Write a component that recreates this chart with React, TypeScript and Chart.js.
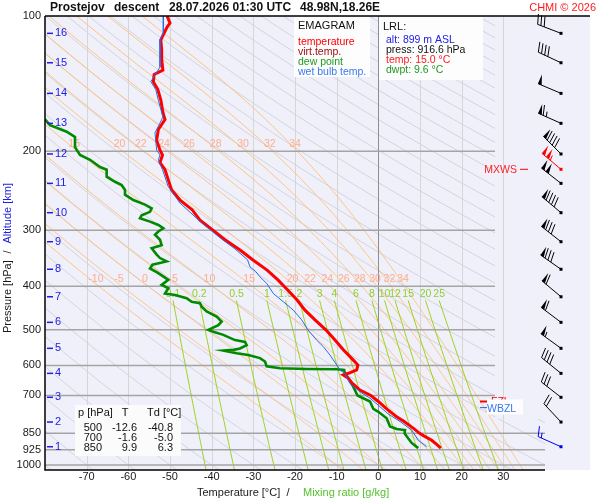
import React, { useEffect, useRef } from "react";
import { Chart, registerables } from "chart.js";

Chart.register(...registerables);

// ---------------- data ----------------
const tempP = [100, 103.7, 105.8, 113, 119, 125, 132, 135, 140, 146,
  154, 164, 170, 179, 189, 199, 204, 212, 220, 232,
  244, 257, 270, 285, 300, 315, 332, 350, 368, 387,
  408, 429, 452, 475, 500, 527, 554, 584, 599, 614,
  624, 630, 640, 657, 681, 700, 722, 750, 781, 800,
  831, 850, 860, 881, 900, 916.6];
const tempT = [-50.7, -50.0, -50.7, -52.2, -52.0, -52.0, -51.7, -53.8, -54.0, -52.9,
  -52.2, -51.7, -51.2, -52.8, -53.2, -52.4, -51.8, -52.4, -51.2, -50.4,
  -49.6, -47.6, -44.7, -42.8, -39.7, -36.8, -33.2, -30.0, -26.7, -24.1,
  -21.7, -19.5, -17.6, -15.2, -12.6, -10.4, -8.4, -6.0, -4.9, -5.2,
  -7.0, -8.4, -7.3, -6.3, -4.4, -1.8, 0.0, 2.0, 4.4, 6.2,
  8.6, 9.9, 10.8, 12.8, 14.0, 15.0];

const dewP = [170, 175, 181, 186, 196, 204, 209, 217, 220, 228,
  234, 238, 244, 250, 257, 263, 268, 273, 278, 282,
  287, 292, 297, 302, 307, 315, 324, 329, 340, 346,
  352, 358, 365, 373, 387, 397, 404, 415, 418, 425,
  433, 436, 444, 455, 467, 479, 488, 500, 505, 513,
  527, 532, 541, 550, 554, 556, 564, 569, 578, 588,
  603, 609, 611, 612, 614, 626, 648, 670, 700, 722,
  750, 761, 787, 821, 831, 836, 850, 863, 893, 911,
  916.6];
const dewT = [-80, -78.8, -74.8, -72.8, -72.8, -71.6, -69.2, -66.8, -65.2, -65.2,
  -63.2, -61.6, -60.8, -60.8, -58.8, -56.0, -54.4, -54.8, -56.8, -57.2,
  -54.8, -52.8, -51.6, -52.8, -53.6, -52.4, -52.0, -54.4, -53.2, -52.4,
  -50.8, -54.2, -54.8, -53.0, -50.4, -52.0, -50.4, -51.2, -48.8, -46.0,
  -44.8, -42.8, -42.4, -41.2, -38.8, -37.6, -38.4, -40.8, -39.6, -37.2,
  -34.4, -32.0, -31.6, -33.2, -34.8, -37.2, -34.0, -31.2, -28.4, -27.2,
  -26.8, -23.6, -17.2, -10.0, -8.2, -8.0, -6.8, -6.0, -5.0, -2.0,
  -1.2, 0.0, 2.0, 2.8, 4.4, 6.4, 6.3, 6.8, 8.0, 9.2,
  9.6];

const wetBulbP = [100, 109, 113, 130, 140, 146, 154, 168, 176, 182,
  199, 204, 209, 220, 240, 261, 280, 290, 300, 315,
  329, 349, 362, 371, 381, 394, 415, 433, 452, 475,
  500, 527, 545, 569, 591, 614, 626, 659, 687, 710,
  736, 770, 800, 836, 881, 911];
const wetBulbT = [-51.6, -51.6, -52.4, -52.4, -54.6, -53.4, -52.8, -51.7, -52.8, -53.6,
  -53.2, -52.4, -52.8, -51.8, -50.4, -47.6, -44.0, -42.2, -40.2, -37.4,
  -34.6, -31.4, -30.8, -29.4, -28.4, -26.8, -25.2, -22.8, -20.4, -18.4,
  -16.9, -14.8, -13.2, -11.6, -10.4, -9.2, -8.0, -6.8, -4.4, -2.0,
  0.0, 2.4, 5.2, 8.0, 9.6, 11.6];

const pressureTicks = [100, 200, 300, 400, 500, 600, 700, 850, 925, 1000];
const temperatureTicks = [-70, -60, -50, -40, -30, -20, -10, 0, 10, 20, 30];

const altitudeKm = [1, 2, 3, 4, 5, 6, 7, 8, 9, 10, 11, 12, 13, 14, 15, 16];
const altitudeP = [910.6, 802.2, 706.7, 625.0, 549.7, 481.1, 422.0, 366.5, 318.2, 274.2,
  235.9, 202.9, 173.4, 148.7, 127.1, 109.3];
const windDir = [294, 317, 308, 309, 306, 307, 310, 305, 308, 310, 308, 315, 294, 293, 295, 291];
const windSpd = [15, 20, 30, 40, 55, 60, 60, 80, 80, 90, 100, 90, 65, 50, 40, 30];
const maxWindP = 219.5;
const maxWindDir = 310;
const maxWindSpd = 105;

const dryAdiabatTheta = [-80, -70, -60, -50, -40, -30, -20, -10, 0, 10, 20, 30, 40, 50, 60, 70, 80, 90,
  100, 110, 120, 130, 140, 150, 160, 170, 180, 190, 200, 210, 220, 230, 240, 250, 260, 270, 280, 290, 300, 310];
const moistAdiabatThetaW = [-10, -5, 0, 5, 10, 15, 20, 22, 24, 26, 28, 30, 32, 34];
const mixingRatios = [0.1, 0.2, 0.5, 1, 1.5, 2, 3, 4, 6, 8, 10, 12, 15, 20, 25];
const mixingRatioLabels = ["0.1", "0.2", "0.5", "1", "1.5", "2", "3", "4", "6", "8", "10", "12", "15", "20", "25"];

const tableP = [500, 700, 850];
const tableT = ["-12.6", "-1.6", "9.9"];
const tableTd = ["-40.8", "-5.0", "6.3"];

const fzlP = 722;
const wbzlP = 745;

// -------------- layout constants --------------
const PANEL_RIGHT = 590;
const FONT = '"Liberation Sans", Arial, Helvetica, sans-serif';

// -------------- helpers --------------
function satVap(tc: number) {
  return 6.112 * Math.exp((17.67 * tc) / (tc + 243.5));
}

function moistCurve(thetaW: number): [number, number][] {
  const f = (p: number, T: number) => {
    const es = satVap(T - 273.15);
    const rs = (0.622 * es) / (p - es);
    const num = 287.04 * T + 2.501e6 * rs;
    const den = 1005.7 + (2.501e6 * 2.501e6 * rs * 0.622) / (287.04 * T * T);
    return num / den / p;
  };
  const integrate = (h: number, pEnd: number) => {
    const out: [number, number][] = [];
    let T = thetaW + 273.15;
    let p = 1000;
    out.push([T - 273.15, p]);
    while ((h < 0 && p > pEnd) || (h > 0 && p < pEnd)) {
      const k1 = f(p, T);
      const k2 = f(p + h / 2, T + (h / 2) * k1);
      const k3 = f(p + h / 2, T + (h / 2) * k2);
      const k4 = f(p + h, T + h * k3);
      T += (h * (k1 + 2 * k2 + 2 * k3 + k4)) / 6;
      p += h;
      out.push([T - 273.15, p]);
    }
    return out;
  };
  const up = integrate(-2, 98);
  const down = integrate(2, 1040);
  return down.reverse().concat(up.slice(1));
}

function mixingT(w: number, p: number) {
  const es = (w * p) / (622 + w);
  const x = Math.log(es / 6.112);
  return (243.5 * x) / (17.67 - x);
}

function tAt(curve: [number, number][], p: number) {
  for (let i = 0; i < curve.length - 1; i++) {
    const [t1, p1] = curve[i];
    const [t2, p2] = curve[i + 1];
    if ((p1 - p) * (p2 - p) <= 0 && p1 !== p2) {
      return t1 + ((t2 - t1) * (p - p1)) / (p2 - p1);
    }
  }
  return NaN;
}

function text(ctx: CanvasRenderingContext2D, s: string, x: number, y: number, color: string, size: number,
  align: CanvasTextAlign = "left", weight = "normal") {
  ctx.font = `${weight} ${size}px ${FONT}`;
  ctx.fillStyle = color;
  ctx.textAlign = align;
  ctx.textBaseline = "middle";
  ctx.fillText(s, x, y);
}

function drawBarb(ctx: CanvasRenderingContext2D, x: number, y: number, dir: number, spd: number, color: string) {
  const r = (dir * Math.PI) / 180;
  const ux = Math.sin(r);
  const uy = -Math.cos(r);
  const nx = -uy;
  const ny = ux;
  const L = 25;
  const BL = 10;
  ctx.save();
  ctx.strokeStyle = color;
  ctx.fillStyle = color;
  ctx.lineWidth = 1;
  ctx.beginPath();
  ctx.moveTo(x, y);
  ctx.lineTo(x + ux * L, y + uy * L);
  ctx.stroke();
  ctx.fillRect(x - 1.5, y - 1.5, 3, 3);
  let s = Math.round(spd / 5) * 5;
  let pos = L;
  while (s >= 50) {
    const ax = x + ux * pos, ay = y + uy * pos;
    const bx = x + ux * (pos - 4), by = y + uy * (pos - 4);
    ctx.beginPath();
    ctx.moveTo(ax, ay);
    ctx.lineTo(ax + nx * BL, ay + ny * BL);
    ctx.lineTo(bx, by);
    ctx.closePath();
    ctx.fill();
    pos -= 5.5;
    s -= 50;
  }
  while (s >= 10) {
    const ax = x + ux * pos, ay = y + uy * pos;
    ctx.beginPath();
    ctx.moveTo(ax, ay);
    ctx.lineTo(ax + nx * BL + ux * 3, ay + ny * BL + uy * 3);
    ctx.stroke();
    pos -= 3.5;
    s -= 10;
  }
  if (s >= 5) {
    if (pos === L) pos -= 3.5;
    const ax = x + ux * pos, ay = y + uy * pos;
    ctx.beginPath();
    ctx.moveTo(ax, ay);
    ctx.lineTo(ax + nx * BL * 0.5 + ux * 1.5, ay + ny * BL * 0.5 + uy * 1.5);
    ctx.stroke();
  }
  ctx.restore();
}

// -------------- plugin --------------
const emagramPlugin = {
  id: "emagram",
  beforeDraw(chart: any) {
    const ctx: CanvasRenderingContext2D = chart.ctx;
    const a = chart.chartArea;
    ctx.save();
    ctx.fillStyle = "#ffffff";
    ctx.fillRect(0, 0, chart.width, chart.height);
    ctx.fillStyle = "rgb(240,240,251)";
    ctx.fillRect(a.left, a.top, PANEL_RIGHT - a.left, a.bottom - a.top);
    ctx.restore();
  },
  beforeDatasetsDraw(chart: any) {
    const ctx: CanvasRenderingContext2D = chart.ctx;
    const xs = chart.scales.x;
    const ys = chart.scales.y;
    const a = chart.chartArea;
    const X = (t: number) => xs.getPixelForValue(t);
    const Y = (p: number) => ys.getPixelForValue(p);
    const xCut = X(28);
    const yCut = Y(790);

    ctx.save();
    // vertical temperature grid
    ctx.lineWidth = 1;
    temperatureTicks.forEach((t) => {
      if (t === 0) return;
      ctx.strokeStyle = "#d6d6d6";
      ctx.beginPath();
      ctx.moveTo(Math.round(X(t)) + 0.5, a.top);
      ctx.lineTo(Math.round(X(t)) + 0.5, a.bottom);
      ctx.stroke();
    });

    // clip region for thermodynamic lines
    ctx.save();
    ctx.beginPath();
    ctx.moveTo(a.left, a.top);
    ctx.lineTo(xCut, a.top);
    ctx.lineTo(xCut, yCut);
    ctx.lineTo(a.right, yCut);
    ctx.lineTo(a.right, a.bottom);
    ctx.lineTo(a.left, a.bottom);
    ctx.closePath();
    ctx.clip();

    const strokeCurve = (pts: [number, number][]) => {
      ctx.beginPath();
      pts.forEach(([t, p], i) => {
        const x = X(t), y = Y(p);
        if (i === 0) ctx.moveTo(x, y);
        else ctx.lineTo(x, y);
      });
      ctx.stroke();
    };

    // dry adiabats
    ctx.strokeStyle = "#d3d3dc";
    ctx.lineWidth = 1;
    dryAdiabatTheta.forEach((th) => {
      const pts: [number, number][] = [];
      for (let p = 98; p <= 1040; p += 6) {
        pts.push([(th + 273.15) * Math.pow(p / 1000, 0.2857) - 273.15, p]);
      }
      strokeCurve(pts);
    });

    // moist adiabats
    const moist = moistAdiabatThetaW.map((tw) => moistCurve(tw));
    ctx.strokeStyle = "#ffc27c";
    moist.forEach((c) => strokeCurve(c));

    // mixing ratio lines
    ctx.strokeStyle = "#9ed21a";
    mixingRatios.forEach((w) => {
      const pts: [number, number][] = [];
      for (let p = 430; p <= 1040; p += 10) pts.push([mixingT(w, p), p]);
      strokeCurve(pts);
    });
    ctx.restore();

    // 0 degC line
    ctx.strokeStyle = "#8e8e8e";
    ctx.lineWidth = 1;
    ctx.beginPath();
    ctx.moveTo(Math.round(X(0)) + 0.5, a.top);
    ctx.lineTo(Math.round(X(0)) + 0.5, a.bottom);
    ctx.stroke();

    // isobars
    ctx.strokeStyle = "#a4a4a4";
    ctx.lineWidth = 1.5;
    pressureTicks.forEach((p) => {
      if (p === 100) return;
      const y = Y(p);
      ctx.beginPath();
      ctx.moveTo(a.left, y);
      ctx.lineTo(p >= 850 ? a.right : xCut, y);
      ctx.stroke();
    });

    // labels of moist adiabats (placed where each line meets the text baseline)
    [200, 400].forEach((lp) => {
      const yBase = Y(lp) - 2.5;
      const pBase = ys.getValueForPixel(yBase);
      moist.forEach((c, i) => {
        const t = tAt(c, pBase);
        const x = X(t);
        if (!(x > 55 && x < xCut - 4)) return;
        text(ctx, String(moistAdiabatThetaW[i]), x, Y(lp) - 7, "#ffac8a", 10.5, "center");
      });
    });
    // labels of mixing ratio lines
    mixingRatios.forEach((w, i) => {
      const x = X(mixingT(w, 430));
      text(ctx, mixingRatioLabels[i], x, Y(400) + 8, "#8fd02a", 10.5, "center");
    });
    ctx.restore();
  },
  afterDatasetsDraw(chart: any) {
    const ctx: CanvasRenderingContext2D = chart.ctx;
    const xs = chart.scales.x;
    const ys = chart.scales.y;
    const a = chart.chartArea;
    const X = (t: number) => xs.getPixelForValue(t);
    const Y = (p: number) => ys.getPixelForValue(p);
    const xCut = X(28);
    ctx.save();

    // frame lines
    ctx.strokeStyle = "#000000";
    ctx.lineWidth = 1.5;
    ctx.beginPath();
    ctx.moveTo(a.left, Y(100));
    ctx.lineTo(PANEL_RIGHT, Y(100));
    ctx.stroke();
    ctx.beginPath();
    ctx.moveTo(a.left, a.top);
    ctx.lineTo(a.left, a.bottom);
    ctx.lineTo(a.right, a.bottom);
    ctx.stroke();

    // pressure labels
    pressureTicks.forEach((p) => text(ctx, String(p), a.left - 4, Y(p), "#1a1a1a", 11, "right"));
    // temperature labels
    temperatureTicks.forEach((t) => text(ctx, String(t), X(t), a.bottom + 7, "#1a1a1a", 11, "center"));

    // altitude ticks
    altitudeKm.forEach((km, i) => {
      const y = Y(altitudeP[i]);
      ctx.strokeStyle = "#2020e0";
      ctx.lineWidth = 1.5;
      ctx.beginPath();
      ctx.moveTo(a.left + 2, y);
      ctx.lineTo(a.left + 8, y);
      ctx.stroke();
      text(ctx, String(km), a.left + 10, y, "#2020e0", 11, "left");
    });

    // axis titles
    text(ctx, "Temperature [°C]", 197, 493, "#1a1a1a", 11, "left");
    text(ctx, "/", 288, 493, "#1a1a1a", 11, "center");
    text(ctx, "Mixing ratio [g/kg]", 303, 493, "#55c22a", 11, "left");
    ctx.save();
    ctx.translate(8, 333);
    ctx.rotate(-Math.PI / 2);
    text(ctx, "Pressure [hPa]", 0, 0, "#1a1a1a", 11, "left");
    text(ctx, "/", 81, 0, "#1a1a1a", 11, "center");
    text(ctx, "Altitude [km]", 150, 0, "#2020e0", 11, "right");
    ctx.restore();

    // title
    text(ctx, "Prostejov", 50, 8, "#111", 12, "left", "bold");
    text(ctx, "descent", 114, 8, "#111", 12, "left", "bold");
    text(ctx, "28.07.2026 01:30 UTC", 169, 8, "#111", 12, "left", "bold");
    text(ctx, "48.98N,18.26E", 300, 8, "#111", 12, "left", "bold");
    text(ctx, "CHMI © 2026", 596, 8, "#ff1a1a", 11, "right");

    // legend box
    ctx.fillStyle = "#fdfdfd";
    ctx.fillRect(294, 17, 76, 60);
    text(ctx, "EMAGRAM", 298, 26, "#111", 11);
    text(ctx, "temperature", 298, 42, "#ff0000", 10.5);
    text(ctx, "virt.temp.", 298, 52, "#a01010", 10.5);
    text(ctx, "dew point", 298, 62, "#1f9a1f", 10.5);
    text(ctx, "wet bulb temp.", 298, 72, "#3a78f0", 10.5);

    // LRL box
    ctx.fillStyle = "#fdfdfd";
    ctx.fillRect(379, 17, 104, 63);
    text(ctx, "LRL:", 383, 27, "#111", 11);
    text(ctx, "alt: 899 m ASL", 386, 40, "#2020e8", 10.5);
    text(ctx, "press: 916.6 hPa", 386, 50, "#111", 10.5);
    text(ctx, "temp: 15.0 °C", 386, 60, "#ff1a1a", 10.5);
    text(ctx, "dwpt: 9.6 °C", 386, 70, "#1f9a1f", 10.5);

    // table
    ctx.fillStyle = "#fbfbfb";
    ctx.fillRect(75, 405, 106, 51);
    text(ctx, "p [hPa]", 78, 413, "#111", 11);
    text(ctx, "T", 125, 413, "#111", 11, "center");
    text(ctx, "Td [°C]", 147, 413, "#111", 11);
    tableP.forEach((p, i) => {
      const y = 428 + i * 10;
      text(ctx, String(p), 102, y, "#111", 11, "right");
      text(ctx, tableT[i], 137, y, "#111", 11, "right");
      text(ctx, tableTd[i], 173, y, "#111", 11, "right");
    });

    // FZL / WBZL
    const yF = Y(fzlP);
    const yW = Y(wbzlP);
    ctx.strokeStyle = "#ff0000";
    ctx.lineWidth = 2;
    ctx.beginPath();
    ctx.moveTo(xCut - 15, yF);
    ctx.lineTo(xCut - 5, yF);
    ctx.stroke();
    text(ctx, "FZL", xCut - 4, yF + 1, "#ff0000", 10.5);
    ctx.fillStyle = "#fdfdfd";
    ctx.fillRect(xCut - 8, yF - 2, 36, 15);
    ctx.strokeStyle = "#2060e0";
    ctx.lineWidth = 1;
    ctx.beginPath();
    ctx.moveTo(xCut - 15, yW);
    ctx.lineTo(xCut - 8, yW);
    ctx.stroke();
    text(ctx, "WBZL", xCut - 8, yW + 1, "#3a78f0", 10.5);

    // winds
    const xB = 561;
    altitudeKm.forEach((_, i) => {
      drawBarb(ctx, xB, Y(altitudeP[i]), windDir[i], windSpd[i], i === 0 ? "#0000ee" : "#000000");
    });
    const yM = Y(maxWindP);
    drawBarb(ctx, xB, yM, maxWindDir, maxWindSpd, "#ff0000");
    text(ctx, "MXWS", 517, yM + 1, "#ff2020", 10.5, "right");
    ctx.strokeStyle = "#ff0000";
    ctx.lineWidth = 1;
    ctx.beginPath();
    ctx.moveTo(520, yM);
    ctx.lineTo(528, yM);
    ctx.stroke();

    ctx.restore();
  },
};

export default function App() {
  const ref = useRef<HTMLCanvasElement | null>(null);
  useEffect(() => {
    const canvas = ref.current;
    if (!canvas) return;
    const toPts = (ps: number[], ts: number[]) => ps.map((p, i) => ({ x: ts[i], y: p }));
    const chart = new Chart(canvas, {
      type: "scatter",
      data: {
        datasets: [
          {
            label: "wet bulb temp.",
            data: toPts(wetBulbP, wetBulbT),
            showLine: true,
            borderColor: "#2a6ae6",
            borderWidth: 1,
            pointRadius: 0,
            tension: 0,
          },
          {
            label: "temperature",
            data: toPts(tempP, tempT),
            showLine: true,
            borderColor: "#ff0000",
            borderWidth: 3,
            pointRadius: 0,
            tension: 0,
          },
          {
            label: "dew point",
            data: toPts(dewP, dewT),
            showLine: true,
            borderColor: "#008a00",
            borderWidth: 2.6,
            pointRadius: 0,
            tension: 0,
          },
        ],
      },
      options: {
        animation: false,
        responsive: false,
        events: [],
        layout: { padding: { left: 45, top: 16, right: 55, bottom: 30 } },
        scales: {
          x: { type: "linear", min: -80, max: 40, bounds: "data", display: false },
          y: { type: "logarithmic", reverse: true, min: 100, max: 1025.9, bounds: "data", display: false },
        },
        plugins: { legend: { display: false }, tooltip: { enabled: false } },
      },
      plugins: [emagramPlugin],
    } as any);
    return () => chart.destroy();
  }, []);
  return (
    <div style={{ position: "absolute", left: 0, top: 0, width: 600, height: 500, background: "#fff" }}>
      <canvas ref={ref} width={600} height={500} style={{ display: "block", width: 600, height: 500 }} />
    </div>
  );
}
